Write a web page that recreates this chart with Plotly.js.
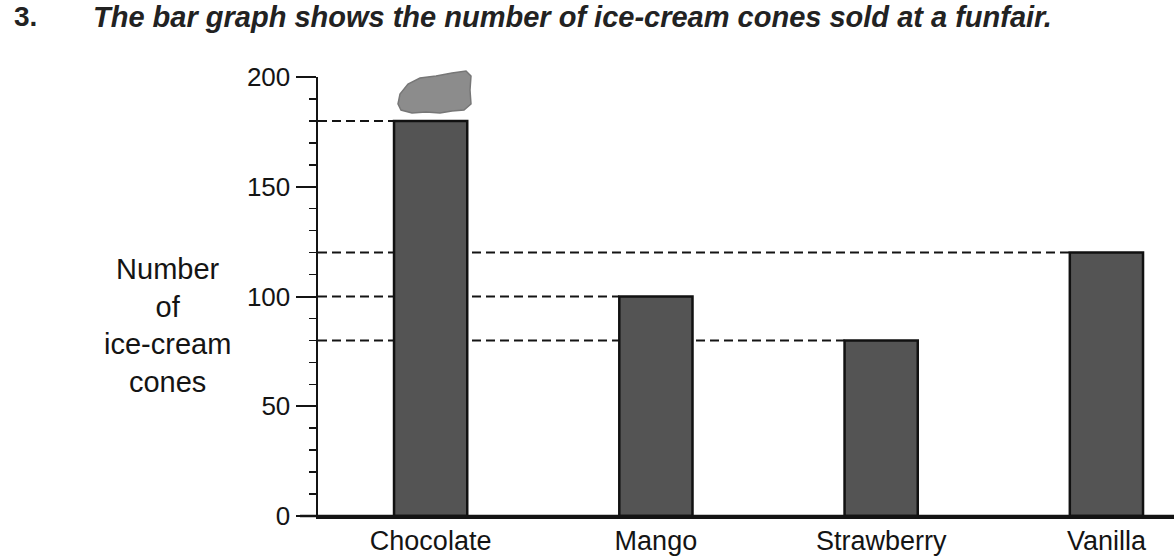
<!DOCTYPE html>
<html>
<head>
<meta charset="utf-8">
<script src="https://cdn.plot.ly/plotly-3.0.1.min.js"></script>
<style>html,body{margin:0;padding:0;background:#fff;}#chart{width:1174px;height:556px;}</style>
</head>
<body>
<div id="chart"></div>
<script>
// ---- data ----
const categories = ['Chocolate', 'Mango', 'Strawberry', 'Vanilla'];
const cones = [180, 100, 80, 120];
const yTickVals = [0, 50, 100, 150, 200];
const yTickText = ['0', '50', '100', '150', '200'];
const questionNumber = '3.';
const questionText = 'The bar graph shows the number of ice-cream cones sold at a funfair.';
const yTitleLines = ['Number', 'of', 'ice-cream', 'cones'];

// ---- layout constants ----
const W = 1174, H = 556;
const M = {l: 318, r: 0, t: 77, b: 40};
const plotW = W - M.l - M.r, plotH = H - M.t - M.b;
const barWidth = 0.325;
const font = 'Liberation Sans, Arial, sans-serif';
const ink = '#141414';

function px(x) { return (x - M.l) / plotW; }
function py(y) { return (H - M.b - y) / plotH; }

const shapes = [];
// dashed reference lines from the axis to each bar's left edge
cones.forEach((v, i) => {
  shapes.push({
    type: 'line', layer: 'below', xref: 'x', yref: 'y',
    x0: -0.5, x1: i - barWidth / 2, y0: v, y1: v,
    line: {color: ink, width: 2, dash: '9px,5px'}
  });
});
// x axis line extending slightly left of the y axis
shapes.push({type: 'line', xref: 'paper', yref: 'paper', x0: px(300), x1: 1, y0: 0, y1: 0,
  line: {color: ink, width: 2.5}});
// ice-cream scoop decoration on top of the first bar
const cloud = [[398,104],[400,94],[408,84],[420,78],[436,76],[452,73],[466,71],[471,76],[470,90],[471,104],[464,110],[452,111],[440,113],[426,112],[412,113],[401,110]];
let d = 'M ' + px(cloud[0][0]) + ',' + py(cloud[0][1]);
for (let k = 1; k < cloud.length; k++) d += ' L ' + px(cloud[k][0]) + ',' + py(cloud[k][1]);
d += ' Z';
shapes.push({type: 'path', xref: 'paper', yref: 'paper', path: d,
  fillcolor: '#8c8c8c', line: {color: '#777', width: 1.5}});

const data = [{
  type: 'bar',
  x: categories.map((c, i) => i),
  y: cones,
  width: barWidth,
  marker: {color: '#545454', line: {color: '#111', width: 2.5}},
  hoverinfo: 'x+y'
}];

const layout = {
  width: W, height: H,
  margin: M,
  paper_bgcolor: '#fff', plot_bgcolor: '#fff',
  showlegend: false,
  font: {family: font, color: ink},
  xaxis: {
    range: [-0.5, 3.3],
    tickvals: categories.map((c, i) => i),
    ticktext: categories,
    ticks: '', showgrid: false, zeroline: false,
    showline: true, linecolor: ink, linewidth: 2.5,
    tickfont: {family: font, size: 27, color: ink},
    ticklabelstandoff: -1
  },
  yaxis: {
    range: [0, 200],
    tickvals: yTickVals, ticktext: yTickText,
    ticks: 'outside', ticklen: 20, tickwidth: 2, tickcolor: ink,
    minor: {dtick: 10, ticks: 'outside', ticklen: 7, tickwidth: 1.5, tickcolor: ink},
    showgrid: false, zeroline: false,
    showline: true, linecolor: ink, linewidth: 2.5,
    tickfont: {family: font, size: 26, color: ink}
  },
  shapes: shapes,
  annotations: [
    {xref: 'paper', yref: 'paper', x: px(167), y: py(325), xanchor: 'center', yanchor: 'middle',
     text: yTitleLines.join('<br>'), showarrow: false, align: 'center',
     font: {family: font, size: 29, color: ink}},
    {xref: 'paper', yref: 'paper', x: px(12), y: py(17), xanchor: 'left', yanchor: 'middle',
     text: '<b>' + questionNumber + '</b>', showarrow: false,
     font: {family: font, size: 28, color: '#222'}},
    {xref: 'paper', yref: 'paper', x: px(91), y: py(17), xanchor: 'left', yanchor: 'middle',
     text: '<b><i>' + questionText + '</i></b>', showarrow: false,
     font: {family: font, size: 29, color: '#222'}}
  ]
};

Plotly.newPlot('chart', data, layout, {staticPlot: true, displayModeBar: false});
</script>
</body>
</html>
